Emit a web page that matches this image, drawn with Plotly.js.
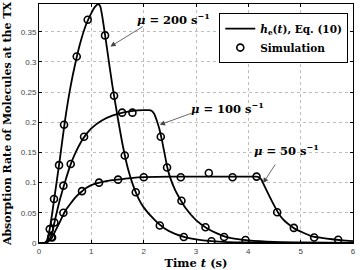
<!DOCTYPE html>
<html>
<head>
<meta charset="utf-8">
<script src="https://cdn.plot.ly/plotly-3.0.1.min.js"></script>
<style>html,body{margin:0;padding:0;background:#fff;}#chart{width:360px;height:270px;}</style>
</head>
<body>
<div id="chart"></div>
<script>
// Analytical curves h_e(t)
const t200 = [0, 0.1, 0.15, 0.2, 0.25, 0.3, 0.35, 0.4, 0.5, 0.6, 0.7, 0.8, 0.9, 1.0, 1.05, 1.1, 1.13, 1.17, 1.2, 1.25, 1.3, 1.4, 1.5, 1.6, 1.7, 1.8, 1.9, 2.0, 2.2, 2.4, 2.6, 2.8, 3.0, 3.3, 3.6, 4.0, 5.0, 6.0];
const v200 = [0, 0, 0.004, 0.021, 0.048, 0.079, 0.109, 0.14, 0.205, 0.258, 0.3, 0.335, 0.362, 0.381, 0.389, 0.394, 0.396, 0.392, 0.38, 0.352, 0.322, 0.262, 0.21, 0.162, 0.123, 0.095, 0.074, 0.059, 0.039, 0.024, 0.015, 0.0095, 0.006, 0.003, 0.0015, 0.0008, 0.0002, 0];

const t100 = [0, 0.1, 0.15, 0.2, 0.25, 0.3, 0.4, 0.5, 0.6, 0.7, 0.8, 0.9, 1.0, 1.2, 1.4, 1.6, 1.8, 2.0, 2.1, 2.15, 2.2, 2.25, 2.3, 2.35, 2.4, 2.45, 2.5, 2.6, 2.7, 2.8, 3.0, 3.2, 3.4, 3.6, 3.8, 4.0, 4.5, 5.0, 6.0];
const v100 = [0, 0, 0.002, 0.006, 0.016, 0.036, 0.072, 0.102, 0.129, 0.15, 0.167, 0.18, 0.19, 0.203, 0.211, 0.216, 0.219, 0.22, 0.22, 0.219, 0.214, 0.203, 0.189, 0.17, 0.148, 0.126, 0.11, 0.088, 0.072, 0.058, 0.038, 0.025, 0.016, 0.0095, 0.0065, 0.0045, 0.002, 0.001, 0.0003];

const t50 = [0, 0.1, 0.15, 0.2, 0.25, 0.3, 0.4, 0.5, 0.6, 0.7, 0.8, 0.9, 1.0, 1.2, 1.4, 1.6, 1.8, 2.0, 2.5, 3.0, 3.5, 4.0, 4.15, 4.2, 4.25, 4.3, 4.4, 4.5, 4.6, 4.7, 4.8, 4.9, 5.0, 5.2, 5.4, 5.6, 5.8, 6.0];
const v50 = [0, 0, 0.001, 0.004, 0.009, 0.018, 0.035, 0.053, 0.065, 0.076, 0.084, 0.091, 0.096, 0.101, 0.104, 0.106, 0.108, 0.109, 0.11, 0.11, 0.11, 0.11, 0.11, 0.109, 0.105, 0.096, 0.078, 0.061, 0.046, 0.036, 0.029, 0.023, 0.019, 0.0115, 0.0085, 0.0062, 0.0045, 0.0032];

// Simulation points
const s200_t = [0.205, 0.287, 0.383, 0.479, 0.721, 0.931, 1.262, 1.434, 1.639, 1.849, 2.308, 2.767, 3.296];
const s200_v = [0.023, 0.073, 0.129, 0.196, 0.309, 0.370, 0.344, 0.244, 0.145, 0.084, 0.029, 0.010, 0.003];
const s100_t = [0.237, 0.294, 0.466, 0.606, 0.861, 1.588, 1.785, 2.327, 2.447, 2.722, 3.181, 3.537, 3.946];
const s100_v = [0.010, 0.034, 0.095, 0.131, 0.176, 0.216, 0.216, 0.176, 0.125, 0.070, 0.026, 0.010, 0.005];
const s50_t = [0.25, 0.466, 0.822, 1.147, 1.511, 2.002, 2.709, 3.245, 3.698, 4.157, 4.551, 4.870, 5.258, 5.717];
const s50_v = [0.009, 0.050, 0.086, 0.100, 0.105, 0.109, 0.109, 0.116, 0.109, 0.110, 0.051, 0.025, 0.009, 0.0055];

const xTicks = [0, 1, 2, 3, 4, 5, 6];
const yTicks = [0, 0.05, 0.1, 0.15, 0.2, 0.25, 0.3, 0.35];
const labels = ['<b><i>μ</i> = 200 s<sup>−1</sup></b>', '<b><i>μ</i> = 100 s<sup>−1</sup></b>', '<b><i>μ</i> = 50 s<sup>−1</sup></b>'];
const legendNames = ['<b><i>h</i><sub>e</sub>(<i>t</i>), Eq. (10)</b>', '<b>Simulation</b>'];

const lineStyle = {color: '#000', width: 1.8, shape: 'spline', smoothing: 0.6};
const markerStyle = {symbol: 'circle-open', size: 7, color: '#000', line: {width: 1.6, color: '#000'}};

const traces = [
  {x: t200, y: v200, mode: 'lines', line: lineStyle, name: legendNames[0], legendgroup: 'a', showlegend: true},
  {x: t100, y: v100, mode: 'lines', line: lineStyle, legendgroup: 'a', showlegend: false},
  {x: t50, y: v50, mode: 'lines', line: lineStyle, legendgroup: 'a', showlegend: false},
  {x: s200_t, y: s200_v, mode: 'markers', marker: markerStyle, name: legendNames[1], legendgroup: 'b', showlegend: true},
  {x: s100_t, y: s100_v, mode: 'markers', marker: markerStyle, legendgroup: 'b', showlegend: false},
  {x: s50_t, y: s50_v, mode: 'markers', marker: markerStyle, legendgroup: 'b', showlegend: false}
];

const serif = 'DejaVu Serif, Liberation Serif, serif';
const sans = 'Liberation Sans, Arial, sans-serif';

function arrow(x, y, ax, ay) {
  return {x: x, y: y, xref: 'x', yref: 'y', ax: ax, ay: ay, text: '', showarrow: true,
          arrowhead: 2, arrowsize: 1.3, arrowwidth: 0.8, arrowcolor: '#444'};
}
function label(x, y, txt) {
  return {x: x, y: y, xref: 'x', yref: 'y', text: txt, showarrow: false,
          font: {family: serif, size: 11.5, color: '#000'}, xanchor: 'center', yanchor: 'middle'};
}

const axisCommon = {
  showline: true, linecolor: '#000', linewidth: 1, mirror: 'ticks',
  ticks: 'inside', ticklen: 3, tickcolor: '#000',
  showgrid: true, gridcolor: '#bdbdbd', griddash: 'dot', gridwidth: 1,
  zeroline: false, tickfont: {family: sans, size: 8, color: '#444'}
};

const layout = {
  width: 360, height: 270,
  margin: {l: 39, r: 7, t: 4, b: 27},
  paper_bgcolor: '#fff', plot_bgcolor: '#fff',
  showlegend: true,
  legend: {x: 0.985, y: 0.962, xanchor: 'right', yanchor: 'top',
           bgcolor: '#fff', bordercolor: '#000', borderwidth: 1,
           font: {family: serif, size: 10.5, color: '#000'},
           itemwidth: 30, tracegroupgap: 0},
  xaxis: Object.assign({}, axisCommon, {
    range: [0, 6], tickvals: xTicks, ticktext: xTicks.map(String),
    title: {text: '<b>Time <i>t</i> (s)</b>', font: {family: serif, size: 11.5, color: '#000'}, standoff: 3}
  }),
  yaxis: Object.assign({}, axisCommon, {
    range: [0, 0.396], tickvals: yTicks, ticktext: yTicks.map(String),
    title: {text: '<b>Absorption Rate of Molecules at the TX</b>', font: {family: serif, size: 11, color: '#000'}, standoff: 6}
  }),
  annotations: [
    arrow(1.365, 0.3255, 34, -21), label(2.562, 0.3714, labels[0]),
    arrow(2.308, 0.1959, 33, -12), label(3.608, 0.224, labels[1]),
    arrow(4.283, 0.0993, 13, -20), label(4.736, 0.1545, labels[2])
  ]
};

Plotly.newPlot('chart', traces, layout, {displayModeBar: false, staticPlot: true});
</script>
</body>
</html>
